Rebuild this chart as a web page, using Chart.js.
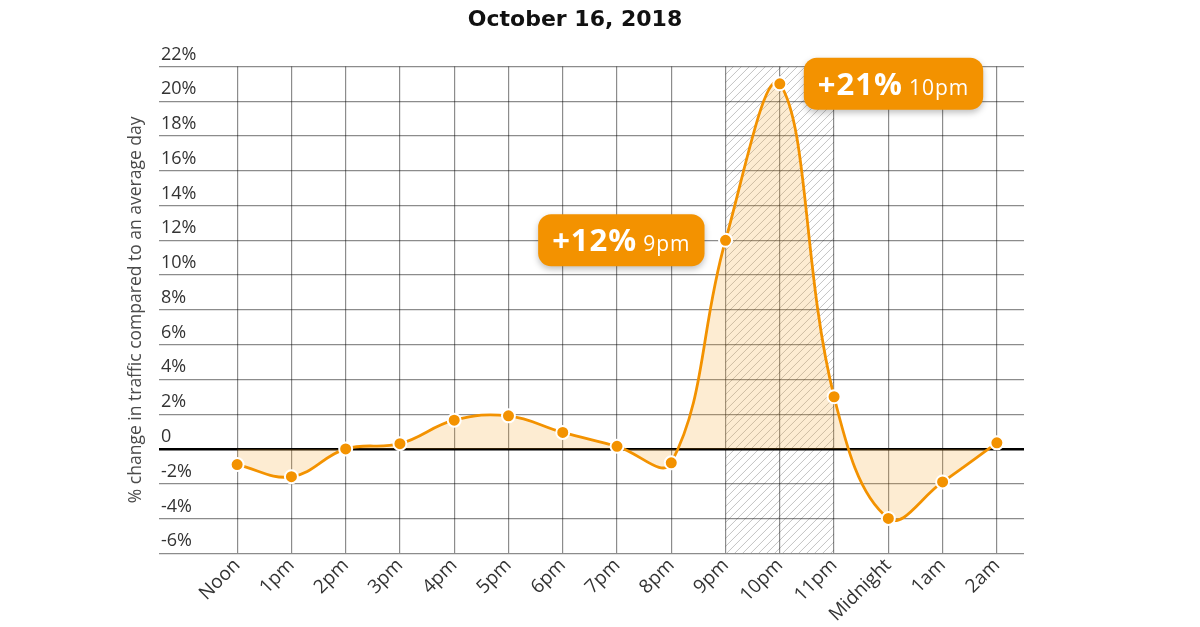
<!DOCTYPE html>
<html>
<head>
<meta charset="utf-8">
<script src="https://cdn.jsdelivr.net/npm/chart.js@4"></script>
<style>
    html, body { margin: 0; padding: 0; background: #ffffff; }
    #wrap { width: 1200px; height: 627px; }
</style>
</head>
<body>
<div id="wrap"><canvas id="trafficChart"></canvas></div>
<script>
// Traffic change by hour, October 16, 2018
const hours = ['Noon', '1pm', '2pm', '3pm', '4pm', '5pm', '6pm', '7pm', '8pm',
    '9pm', '10pm', '11pm', 'Midnight', '1am', '2am'];
const change = [-0.9, -1.6, 0, 0.3, 1.65, 1.9, 0.95, 0.15, -0.8,
    12, 21, 3, -4, -1.9, 0.35];
const yTicks = [-6, -4, -2, 0, 2, 4, 6, 8, 10, 12, 14, 16, 18, 20, 22];

// Shaded window and callouts
const highlightFrom = '9pm';
const highlightTo = '11pm';
const calloutHours = ['9pm', '10pm'];
const calloutSides = ['left', 'right'];

const ORANGE = '#f39200';
const GRID = 'rgba(0, 0, 0, 0.45)';

// Hatched background between two hours
const hatchPlugin = {
    id: 'hatch',
    beforeDatasetsDraw(chart) {
        const { ctx, chartArea, scales } = chart;
        const x1 = scales.x.getPixelForValue(hours.indexOf(highlightFrom));
        const x2 = scales.x.getPixelForValue(hours.indexOf(highlightTo));
        ctx.save();
        ctx.beginPath();
        ctx.rect(x1, chartArea.top, x2 - x1, chartArea.bottom - chartArea.top);
        ctx.clip();
        ctx.strokeStyle = 'rgba(0, 0, 0, 0.24)';
        ctx.lineWidth = 1;
        const h = chartArea.bottom - chartArea.top;
        for (let s = x1 - h; s < x2 + 8; s += 8) {
            ctx.beginPath();
            ctx.moveTo(s, chartArea.bottom);
            ctx.lineTo(s + h, chartArea.top);
            ctx.stroke();
        }
        ctx.restore();
    }
};

// Orange rounded labels next to the peak points
const calloutPlugin = {
    id: 'callouts',
    afterDatasetsDraw(chart) {
        const { ctx } = chart;
        const meta = chart.getDatasetMeta(0);
        const bigFont = 'bold 31px "Open Sans"';
        const smallFont = '21px "Open Sans"';
        calloutHours.forEach((hour, i) => {
            const idx = hours.indexOf(hour);
            const pt = meta.data[idx];
            const big = '+' + change[idx] + '%';
            const small = hour;
            ctx.save();
            ctx.letterSpacing = '1px';
            ctx.font = bigFont;
            const wBig = ctx.measureText(big).width;
            ctx.font = smallFont;
            const wSmall = ctx.measureText(small).width;
            const padX = 14, gap = 6, boxH = 52;
            const boxW = padX * 2 + wBig + gap + wSmall;
            const left = calloutSides[i] === 'right' ? pt.x + 24 : pt.x - 21 - boxW;
            const top = pt.y - boxH / 2;

            ctx.shadowColor = 'rgba(0, 0, 0, 0.25)';
            ctx.shadowBlur = 6;
            ctx.shadowOffsetY = 3;
            ctx.fillStyle = ORANGE;
            ctx.beginPath();
            ctx.roundRect(left, top, boxW, boxH, 13);
            ctx.fill();
            ctx.shadowColor = 'transparent';

            ctx.fillStyle = '#ffffff';
            ctx.textBaseline = 'alphabetic';
            ctx.font = bigFont;
            ctx.fillText(big, left + padX, top + 37);
            ctx.font = smallFont;
            ctx.fillText(small, left + padX + wBig + gap, top + 37);
            ctx.restore();
        });
    }
};

const chart = new Chart(document.getElementById('trafficChart'), {
    type: 'line',
    data: {
        datasets: [{
            data: change.map((v, i) => ({ x: i, y: v })),
            borderColor: ORANGE,
            borderWidth: 2.8,
            backgroundColor: 'rgba(247, 160, 30, 0.2)',
            fill: 'origin',
            tension: 0.4,
            pointRadius: 6.5,
            pointBackgroundColor: ORANGE,
            pointBorderColor: '#ffffff',
            pointBorderWidth: 2
        }]
    },
    options: {
        responsive: true,
        maintainAspectRatio: false,
        animation: false,
        events: [],
        layout: {
            padding: { left: 126, right: 176, top: 0, bottom: 0 }
        },
        scales: {
            x: {
                type: 'linear',
                min: -1.44,
                max: 14.5,
                afterBuildTicks: (scale) => {
                    scale.ticks = hours.map((_, i) => ({ value: i }));
                },
                ticks: {
                    autoSkip: false,
                    maxRotation: 45,
                    minRotation: 45,
                    padding: 1,
                    color: '#333333',
                    font: { size: 19, family: 'Open Sans' },
                    callback: (value) => hours[value]
                },
                grid: {
                    color: GRID,
                    lineWidth: 1.2,
                    drawTicks: false
                },
                border: { display: false }
            },
            y: {
                min: -6,
                max: 22,
                afterBuildTicks: (scale) => {
                    scale.ticks = yTicks.map(v => ({ value: v }));
                },
                ticks: {
                    mirror: true,
                    labelOffset: -12,
                    padding: 2,
                    color: '#333333',
                    font: { size: 18, family: 'Open Sans' },
                    callback: (value) => value === 0 ? '0' : value + '%'
                },
                grid: {
                    color: (c) => c.tick && c.tick.value === 0 ? '#000000' : GRID,
                    lineWidth: (c) => c.tick && c.tick.value === 0 ? 2.5 : 1.2,
                    drawTicks: false
                },
                border: { display: false },
                title: {
                    display: true,
                    text: '% change in traffic compared to an average day',
                    color: '#4a4a4a',
                    font: { size: 17.5, family: 'Open Sans' },
                    padding: { top: 0, bottom: 8 }
                }
            }
        },
        plugins: {
            legend: { display: false },
            tooltip: { enabled: false },
            title: {
                display: true,
                text: 'October 16, 2018',
                color: '#111111',
                font: { size: 22, weight: 'bold', family: 'DejaVu Sans' },
                padding: { top: 7, bottom: 33 }
            }
        }
    },
    plugins: [hatchPlugin, calloutPlugin]
});
</script>
</body>
</html>
